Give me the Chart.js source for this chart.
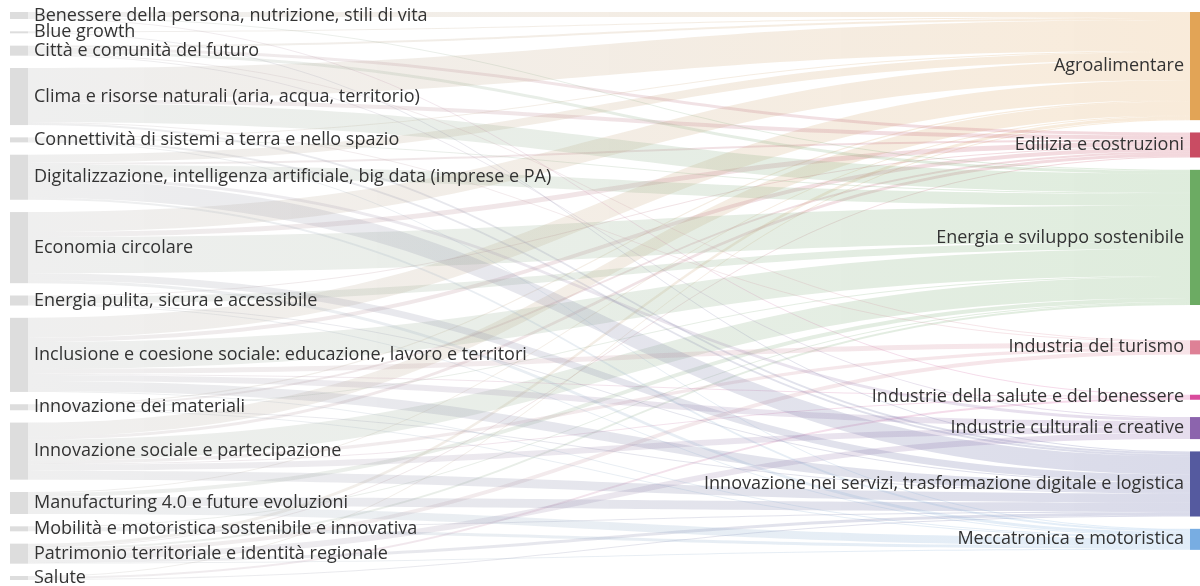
<!DOCTYPE html>
<html lang="it">
<head>
<meta charset="utf-8">
<title>Aree tematiche e sistemi produttivi</title>
<script src="https://cdn.jsdelivr.net/npm/chart.js@4.4.1/dist/chart.umd.min.js"></script>
<style>
    html, body { margin: 0; padding: 0; background: #fff; }
    #wrap { width: 1200px; height: 586px; position: relative; }
</style>
</head>
<body>
<div id="wrap"><canvas id="sankey"></canvas></div>
<script>
// Aree tematiche (colonna di sinistra)
const sources = [
    'Benessere della persona, nutrizione, stili di vita',
    'Blue growth',
    'Città e comunità del futuro',
    'Clima e risorse naturali (aria, acqua, territorio)',
    'Connettività di sistemi a terra e nello spazio',
    'Digitalizzazione, intelligenza artificiale, big data (imprese e PA)',
    'Economia circolare',
    'Energia pulita, sicura e accessibile',
    'Inclusione e coesione sociale: educazione, lavoro e territori',
    'Innovazione dei materiali',
    'Innovazione sociale e partecipazione',
    'Manufacturing 4.0 e future evoluzioni',
    'Mobilità e motoristica sostenibile e innovativa',
    'Patrimonio territoriale e identità regionale',
    'Salute'
];

// Sistemi produttivi (colonna di destra)
const targets = [
    'Agroalimentare',
    'Edilizia e costruzioni',
    'Energia e sviluppo sostenibile',
    'Industria del turismo',
    'Industrie della salute e del benessere',
    'Industrie culturali e creative',
    'Innovazione nei servizi, trasformazione digitale e logistica',
    'Meccatronica e motoristica'
];
const targetColors = ['#e2a456', '#c94c63', '#6cab63', '#de8196', '#d94b9c', '#8c64ad', '#555a9f', '#78ade2'];

// flussi verso ogni sistema, nello stesso ordine delle aree tematiche
const toAgroalimentare = [5, 1, 2, 31, 1, 8, 20, 0, 20, 1, 14, 1, 0, 3, 1];
const toEdilizia       = [0, 0, 3, 4, 0, 2, 5, 1, 4, 2, 3, 0, 0, 1, 0];
const toEnergia        = [1, 0, 3, 19, 1, 12, 36, 7, 27, 1, 21, 4, 1, 2, 0];
const toTurismo        = [0, 0, 1, 1, 0, 0, 0, 0, 5, 0, 3, 0, 0, 4, 0];
const toSalute         = [1, 0, 0, 0, 0, 0, 0, 0, 1, 0, 1, 0, 0, 0, 2];
const toCulturali      = [0, 0, 1, 0, 0, 3, 0, 0, 6, 0, 6, 0, 0, 6, 0];
const toServizi        = [0, 1, 0, 2, 2, 18, 7, 1, 10, 1, 9, 9, 1, 3, 1];
const toMeccatronica   = [0, 0, 0, 0, 1, 2, 3, 1, 1, 1, 0, 8, 3, 1, 0];

const flows = [toAgroalimentare, toEdilizia, toEnergia, toTurismo, toSalute, toCulturali, toServizi, toMeccatronica];

const NODE_PAD = 12.3; // spazio tra i nodi, in unità di valore
const totalFlow = flows.reduce((s, col) => s + col.reduce((a, b) => a + b, 0), 0);
const yMax = totalFlow + (sources.length - 1) * NODE_PAD;

function hexToRgba(hex, a) {
    const n = parseInt(hex.slice(1), 16);
    return `rgba(${(n >> 16) & 255}, ${(n >> 8) & 255}, ${n & 255}, ${a})`;
}

// disegna nodi, collegamenti ed etichette sulle scale del grafico
const sankeyPlugin = {
    id: 'sankeyDraw',
    afterDatasetsDraw(chart, args, opts) {
        const ctx = chart.ctx;
        const xs = chart.scales.x;
        const ys = chart.scales.y;

        const srcTotals = sources.map((_, i) => flows.reduce((s, col) => s + col[i], 0));
        const tgtTotals = flows.map(col => col.reduce((a, b) => a + b, 0));

        let acc = 0;
        const srcNodes = srcTotals.map(v => {
            const n = { y0: acc, y1: acc + v, cur: acc };
            acc += v + NODE_PAD;
            return n;
        });
        acc = 0;
        const tgtNodes = tgtTotals.map((v, j) => {
            acc += opts.extraGap[j];
            const n = { y0: acc, y1: acc + v, cur: acc };
            acc += v + NODE_PAD;
            return n;
        });

        const xLeft = xs.getPixelForValue(0);
        const xRight = xs.getPixelForValue(1);
        const xa = xLeft + opts.leftWidth;
        const xb = xRight - opts.rightWidth;
        const xm = (xa + xb) / 2;

        // collegamenti
        flows.forEach((col, j) => {
            col.forEach((v, i) => {
                if (!v) return;
                const s = srcNodes[i], t = tgtNodes[j];
                const sy0 = ys.getPixelForValue(s.cur), sy1 = ys.getPixelForValue(s.cur + v);
                const ty0 = ys.getPixelForValue(t.cur), ty1 = ys.getPixelForValue(t.cur + v);
                s.cur += v;
                t.cur += v;
                const grad = ctx.createLinearGradient(xa, 0, xb, 0);
                grad.addColorStop(0, 'rgba(175, 175, 175, 0.2)');
                grad.addColorStop(1, hexToRgba(targetColors[j], 0.22));
                ctx.beginPath();
                ctx.moveTo(xa, sy0);
                ctx.bezierCurveTo(xm, sy0, xm, ty0, xb, ty0);
                ctx.lineTo(xb, ty1);
                ctx.bezierCurveTo(xm, ty1, xm, sy1, xa, sy1);
                ctx.closePath();
                ctx.fillStyle = grad;
                ctx.fill();
            });
        });

        // nodi
        ctx.fillStyle = '#dddddd';
        srcNodes.forEach(n => {
            const y0 = ys.getPixelForValue(n.y0), y1 = ys.getPixelForValue(n.y1);
            ctx.fillRect(xLeft, y0, opts.leftWidth, y1 - y0);
        });
        tgtNodes.forEach((n, j) => {
            const y0 = ys.getPixelForValue(n.y0), y1 = ys.getPixelForValue(n.y1);
            ctx.fillStyle = targetColors[j];
            ctx.fillRect(xb, y0, opts.rightWidth, y1 - y0);
        });

        // etichette
        ctx.font = opts.font;
        ctx.fillStyle = '#333333';
        ctx.textBaseline = 'middle';
        ctx.textAlign = 'left';
        srcNodes.forEach((n, i) => {
            const yc = ys.getPixelForValue((n.y0 + n.y1) / 2);
            ctx.fillText(sources[i], xa + 6, yc);
        });
        ctx.textAlign = 'right';
        tgtNodes.forEach((n, j) => {
            const yc = ys.getPixelForValue((n.y0 + n.y1) / 2);
            ctx.fillText(targets[j], xb - 6, yc);
        });
    }
};

new Chart(document.getElementById('sankey'), {
    type: 'scatter',
    data: { datasets: [{ data: [] }] },
    options: {
        responsive: true,
        maintainAspectRatio: false,
        animation: false,
        layout: { padding: { left: 10, top: 12, right: 0, bottom: 6 } },
        scales: {
            x: { type: 'linear', min: 0, max: 1, display: false },
            y: { type: 'linear', min: 0, max: yMax, reverse: true, display: false }
        },
        plugins: {
            legend: { display: false },
            tooltip: { enabled: false },
            sankeyDraw: {
                leftWidth: 18,
                rightWidth: 10,
                extraGap: [0, 0, 0, 23, 28, 5, 0, 0],
                font: '18px "Open Sans", "Noto Sans", sans-serif'
            }
        }
    },
    plugins: [sankeyPlugin]
});
</script>
</body>
</html>
